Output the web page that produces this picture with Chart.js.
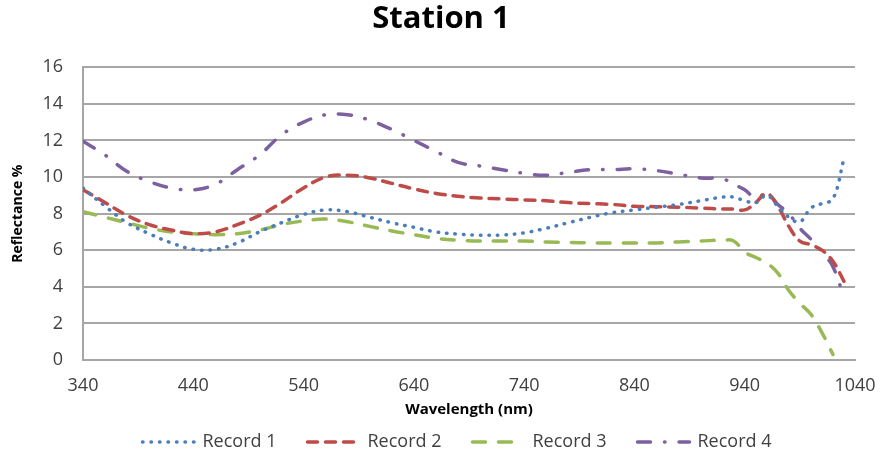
<!DOCTYPE html>
<html>
<head>
<meta charset="utf-8">
<script src="https://cdn.jsdelivr.net/npm/chart.js@4"></script>
<style>
  html, body { margin: 0; padding: 0; background: #fff; }
  #wrap { width: 882px; height: 454px; }
</style>
</head>
<body>
<div id="wrap"><canvas id="chart" width="882" height="454"></canvas></div>
<script>
// wavelength (nm) sample points
const wavelengths = [340, 360, 380, 400, 420, 440, 460, 480, 500, 520, 540, 560, 580, 600, 620, 640, 660, 680, 700, 720, 740, 760, 780, 800, 820, 840, 860, 880, 900, 920, 930, 940, 950, 960, 970, 980, 990, 1000, 1010, 1020, 1030];

const record1 = [9.4, 8.4, 7.5, 6.9, 6.4, 6.05, 6.05, 6.4, 7.0, 7.5, 7.95, 8.2, 8.1, 7.8, 7.5, 7.25, 7.0, 6.88, 6.82, 6.83, 6.95, 7.2, 7.5, 7.8, 8.05, 8.2, 8.35, 8.5, 8.7, 8.9, 8.9, 8.7, 8.6, 9.0, 8.4, 7.8, 7.55, 8.3, 8.55, 8.8, 11.0];
const record2 = [9.3, 8.6, 7.9, 7.4, 7.1, 6.9, 7.0, 7.4, 7.9, 8.6, 9.4, 10.0, 10.1, 9.95, 9.65, 9.35, 9.1, 8.95, 8.85, 8.8, 8.75, 8.7, 8.6, 8.55, 8.5, 8.4, 8.38, 8.35, 8.3, 8.25, 8.25, 8.2, 8.6, 9.1, 8.4, 7.3, 6.5, 6.3, 6.0, 5.4, 4.3];
const record3 = [8.1, 7.8, 7.5, 7.2, 7.0, 6.9, 6.85, 6.9, 7.1, 7.4, 7.6, 7.7, 7.55, 7.3, 7.05, 6.85, 6.65, 6.55, 6.5, 6.5, 6.5, 6.45, 6.42, 6.4, 6.4, 6.4, 6.4, 6.45, 6.5, 6.55, 6.5, 5.9, 5.6, 5.3, 4.75, 3.8, 3.1, 2.5, 1.5, 0.3, null];
const record4 = [11.95, 11.2, 10.3, 9.75, 9.4, 9.3, 9.6, 10.4, 11.2, 12.3, 13.0, 13.4, 13.4, 13.1, 12.6, 12.0, 11.4, 10.8, 10.6, 10.4, 10.2, 10.1, 10.25, 10.4, 10.4, 10.45, 10.35, 10.15, 9.95, 9.9, 9.6, 9.3, 8.85, 9.1, 8.5, 8.0, 7.2, 6.6, 5.9, 5.1, 3.4];

const seriesNames = ["Record 1", "Record 2", "Record 3", "Record 4"];
const seriesColors = ["#4a7ebb", "#be4b48", "#98b954", "#7d60a0"];
const seriesDash = [[0.5, 8], [10, 8], [13, 13], [13, 14, 0.5, 14]];

const FONT = "'Open Sans', sans-serif";

function toPoints(vals) {
    return wavelengths.map((w, i) => ({ x: w, y: vals[i] }));
}

const datasets = [record1, record2, record3, record4].map((vals, i) => ({
    label: seriesNames[i],
    data: toPoints(vals),
    borderColor: seriesColors[i],
    backgroundColor: seriesColors[i],
    borderWidth: 3.5,
    borderDash: seriesDash[i],
    borderCapStyle: "round",
    pointRadius: 0,
    tension: 0.4
}));

// the built-in legend draws solid swatches, so draw the dashed ones here
const dashedLegend = {
    id: "dashedLegend",
    afterDraw(chart) {
        const ctx = chart.ctx;
        const lineLen = 56, gapText = 6, gapItem = 29;
        const y = 442;
        ctx.save();
        ctx.font = "18px " + FONT;
        let total = 0;
        chart.data.datasets.forEach((ds, i) => {
            total += lineLen + gapText + ctx.measureText(ds.label).width;
            if (i > 0) total += gapItem;
        });
        let x = 456 - total / 2;
        chart.data.datasets.forEach(ds => {
            ctx.beginPath();
            ctx.strokeStyle = ds.borderColor;
            ctx.lineWidth = ds.borderWidth;
            ctx.lineCap = "round";
            ctx.setLineDash(ds.borderDash);
            ctx.moveTo(x + 2, y);
            ctx.lineTo(x + lineLen - 2, y);
            ctx.stroke();
            ctx.setLineDash([]);
            x += lineLen + gapText;
            ctx.fillStyle = "#404040";
            ctx.textBaseline = "middle";
            ctx.textAlign = "left";
            ctx.fillText(ds.label, x, y);
            x += ctx.measureText(ds.label).width + gapItem;
        });
        ctx.restore();
    }
};

new Chart(document.getElementById("chart").getContext("2d"), {
    type: "line",
    data: { datasets },
    plugins: [dashedLegend],
    options: {
        responsive: false,
        animation: false,
        layout: { padding: { left: 0, right: 0, top: 0, bottom: 30 } },
        plugins: {
            title: {
                display: true,
                text: "Station 1",
                color: "#000",
                font: { family: FONT, size: 31, weight: "bold" },
                padding: { top: 1, bottom: 29 }
            },
            legend: { display: false },
            tooltip: { enabled: false }
        },
        scales: {
            x: {
                type: "linear",
                min: 340,
                max: 1040,
                afterFit: s => { s.height = 64; s.paddingRight = 27; },
                ticks: {
                    stepSize: 100,
                    color: "#404040",
                    font: { family: FONT, size: 18 },
                    maxRotation: 0,
                    padding: 15,
                    callback: v => String(v)
                },
                grid: { drawOnChartArea: false, drawTicks: false },
                border: { color: "#a6a6a6", width: 2 },
                title: {
                    display: true,
                    text: "Wavelength (nm)",
                    color: "#000",
                    font: { family: FONT, size: 15, weight: "bold" },
                    padding: { top: 2, bottom: 5 }
                }
            },
            y: {
                min: 0,
                max: 16,
                afterFit: s => { s.width = 83; },
                ticks: {
                    stepSize: 2,
                    color: "#404040",
                    font: { family: FONT, size: 18 },
                    padding: 20
                },
                grid: { color: "#a6a6a6", lineWidth: 2, drawTicks: false },
                border: { color: "#a6a6a6", width: 2 },
                title: {
                    display: true,
                    text: "Reflectance %",
                    color: "#000",
                    font: { family: FONT, size: 14, weight: "bold" },
                    padding: { top: 10, bottom: 0 }
                }
            }
        }
    }
});
</script>
</body>
</html>
